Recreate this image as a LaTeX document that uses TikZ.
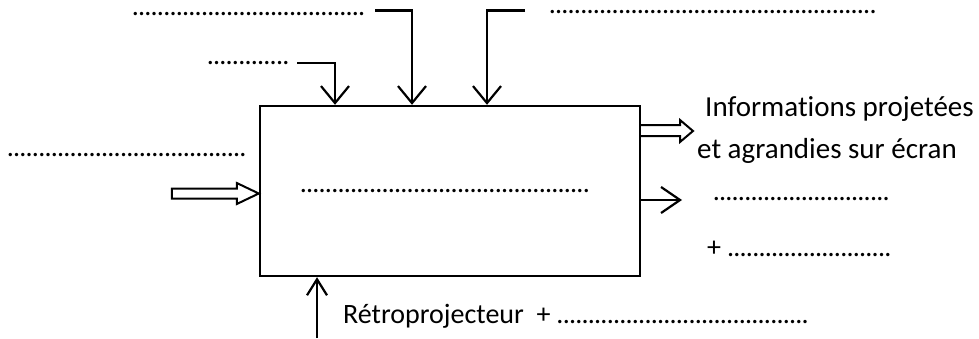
\documentclass[tikz,border=0pt]{standalone}
\usepackage{fontspec}
\setmainfont{Carlito}[Ligatures=NoCommon]
\usetikzlibrary{arrows.meta,calc}

% row of dots of a given length
\newcommand{\dotrow}[1]{\hbox to #1{\leaders\hbox to 6.3pt{\hss.\hss}\hfill}}

\begin{document}
\begin{tikzpicture}[x=1pt, y=-1pt]
\tikzset{txt/.style = {inner sep=0pt, anchor=base west, font=\fontsize{28}{42}\selectfont}}
\tikzset{flow/.style = {draw, line width=2.2pt, -{Straight Barb[length=17pt, width=28pt, line width=2.2pt]}}}
\tikzset{block/.style = {draw, line width=2pt, line join=miter}}
\useasboundingbox (0,0) rectangle (979,338);

% the box
\node[draw, line width=2.4pt, minimum width=380pt, minimum height=170pt, inner sep=0pt] (box) at (450,191) {};
\node[txt] (fn) at (300,192) {\dotrow{292pt}};

% control (top)
\node[txt] (ctlA) at (132,15) {\dotrow{238pt}};
\node[txt] (ctlB) at (549,13) {\dotrow{330pt}};
\node[txt] (ctlC) at (207,64) {\dotrow{83pt}};
\coordinate (a1) at (297,63);
\coordinate (a2) at (375,10.5);
\coordinate (a3) at (525,10.5);
\draw[flow] (a1) -| (335,0 |- box.north);
\draw[flow] (a2) -| (412,0 |- box.north);
\draw[flow] (a3) -| (487,0 |- box.north);

% input (left)
\node[txt] (inp) at (7,156) {\dotrow{241pt}};
\draw[block] ($(box.west)+(-87,-2.5)$) -- ($(box.west)+(-22,-2.5)$) -- ($(box.west)+(-22,-8)$)
  -- ($(box.west)+(0,2.5)$) -- ($(box.west)+(-22,13)$) -- ($(box.west)+(-22,7.5)$)
  -- ($(box.west)+(-87,7.5)$) -- cycle;

% outputs (right)
\draw[block] (640,125) -- (680,125) -- (680,120) -- (693,131) -- (680,142) -- (680,136) -- (640,136);
\node[txt, align=left, font=\fontsize{29}{42}\selectfont] (out1) at (697,158) {\hspace*{8pt}Informations projetées\\et agrandies sur écran};
\coordinate (b1) at (682,200);
\draw[flow, -{Straight Barb[length=19pt, width=26pt, line width=2.2pt]}] (box.east |- b1) -- (b1);
\node[txt] (out2) at (713,200) {\dotrow{181pt}};
\node[txt] (out3) at (707,256) {+ \dotrow{164pt}};

% support (bottom)
\coordinate (s1) at (317,338);
\draw[flow, -{Straight Barb[length=16pt, width=20pt, line width=2.2pt]}] (s1) -- (s1 |- box.south);
\node[txt] (sup) at (343,323) {Rétroprojecteur~~+ \dotrow{258pt}};
\end{tikzpicture}
\end{document}
